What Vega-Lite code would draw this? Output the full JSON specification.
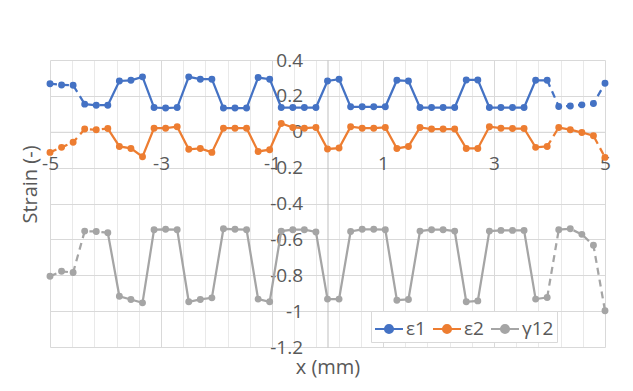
{
  "$schema": "https://vega.github.io/schema/vega-lite/v6.json",
  "width": 555,
  "height": 287,
  "autosize": {"type": "none"},
  "padding": {"left": 50, "top": 60, "right": 28, "bottom": 44},
  "background": "white",
  "config": {"view": {"stroke": null}, "font": "Open Sans"},
  "data": {"values": [
    {"x": -5, "s": "ε1", "v": 0.268}, {"x": -4.7917, "s": "ε1", "v": 0.261}, {"x": -4.5833, "s": "ε1", "v": 0.259},
    {"x": -4.375, "s": "ε1", "v": 0.154}, {"x": -4.1667, "s": "ε1", "v": 0.148}, {"x": -3.9583, "s": "ε1", "v": 0.148},
    {"x": -3.75, "s": "ε1", "v": 0.283}, {"x": -3.5417, "s": "ε1", "v": 0.287}, {"x": -3.3333, "s": "ε1", "v": 0.306},
    {"x": -3.125, "s": "ε1", "v": 0.135}, {"x": -2.9167, "s": "ε1", "v": 0.132}, {"x": -2.7083, "s": "ε1", "v": 0.135},
    {"x": -2.5, "s": "ε1", "v": 0.306}, {"x": -2.2917, "s": "ε1", "v": 0.293}, {"x": -2.0833, "s": "ε1", "v": 0.293},
    {"x": -1.875, "s": "ε1", "v": 0.132}, {"x": -1.6667, "s": "ε1", "v": 0.132}, {"x": -1.4583, "s": "ε1", "v": 0.132},
    {"x": -1.25, "s": "ε1", "v": 0.302}, {"x": -1.0417, "s": "ε1", "v": 0.293},
    {"x": -0.8333, "s": "ε1", "v": 0.135}, {"x": -0.625, "s": "ε1", "v": 0.135}, {"x": -0.4167, "s": "ε1", "v": 0.135}, {"x": -0.2083, "s": "ε1", "v": 0.135},
    {"x": 0, "s": "ε1", "v": 0.283}, {"x": 0.2083, "s": "ε1", "v": 0.293},
    {"x": 0.4167, "s": "ε1", "v": 0.139}, {"x": 0.625, "s": "ε1", "v": 0.139}, {"x": 0.8333, "s": "ε1", "v": 0.139}, {"x": 1.0417, "s": "ε1", "v": 0.139},
    {"x": 1.25, "s": "ε1", "v": 0.287}, {"x": 1.4583, "s": "ε1", "v": 0.283},
    {"x": 1.6667, "s": "ε1", "v": 0.135}, {"x": 1.875, "s": "ε1", "v": 0.135}, {"x": 2.0833, "s": "ε1", "v": 0.135}, {"x": 2.2917, "s": "ε1", "v": 0.135},
    {"x": 2.5, "s": "ε1", "v": 0.289}, {"x": 2.7083, "s": "ε1", "v": 0.289},
    {"x": 2.9167, "s": "ε1", "v": 0.135}, {"x": 3.125, "s": "ε1", "v": 0.135}, {"x": 3.3333, "s": "ε1", "v": 0.135}, {"x": 3.5417, "s": "ε1", "v": 0.135},
    {"x": 3.75, "s": "ε1", "v": 0.287}, {"x": 3.9583, "s": "ε1", "v": 0.287},
    {"x": 4.1667, "s": "ε1", "v": 0.141}, {"x": 4.375, "s": "ε1", "v": 0.144}, {"x": 4.5833, "s": "ε1", "v": 0.15}, {"x": 4.7917, "s": "ε1", "v": 0.157},
    {"x": 5, "s": "ε1", "v": 0.27},

    {"x": -5, "s": "ε2", "v": -0.115}, {"x": -4.7917, "s": "ε2", "v": -0.087}, {"x": -4.5833, "s": "ε2", "v": -0.059},
    {"x": -4.375, "s": "ε2", "v": 0.015}, {"x": -4.1667, "s": "ε2", "v": 0.011}, {"x": -3.9583, "s": "ε2", "v": 0.018},
    {"x": -3.75, "s": "ε2", "v": -0.082}, {"x": -3.5417, "s": "ε2", "v": -0.093}, {"x": -3.3333, "s": "ε2", "v": -0.139},
    {"x": -3.125, "s": "ε2", "v": 0.02}, {"x": -2.9167, "s": "ε2", "v": 0.02}, {"x": -2.7083, "s": "ε2", "v": 0.028},
    {"x": -2.5, "s": "ε2", "v": -0.098}, {"x": -2.2917, "s": "ε2", "v": -0.093}, {"x": -2.0833, "s": "ε2", "v": -0.115},
    {"x": -1.875, "s": "ε2", "v": 0.02}, {"x": -1.6667, "s": "ε2", "v": 0.02}, {"x": -1.4583, "s": "ε2", "v": 0.02},
    {"x": -1.25, "s": "ε2", "v": -0.11}, {"x": -1.0417, "s": "ε2", "v": -0.1},
    {"x": -0.8333, "s": "ε2", "v": 0.046}, {"x": -0.625, "s": "ε2", "v": 0.024}, {"x": -0.4167, "s": "ε2", "v": 0.02}, {"x": -0.2083, "s": "ε2", "v": 0.024},
    {"x": 0, "s": "ε2", "v": -0.096}, {"x": 0.2083, "s": "ε2", "v": -0.091},
    {"x": 0.4167, "s": "ε2", "v": 0.028}, {"x": 0.625, "s": "ε2", "v": 0.02}, {"x": 0.8333, "s": "ε2", "v": 0.02}, {"x": 1.0417, "s": "ε2", "v": 0.024},
    {"x": 1.25, "s": "ε2", "v": -0.093}, {"x": 1.4583, "s": "ε2", "v": -0.082},
    {"x": 1.6667, "s": "ε2", "v": 0.024}, {"x": 1.875, "s": "ε2", "v": 0.015}, {"x": 2.0833, "s": "ε2", "v": 0.015}, {"x": 2.2917, "s": "ε2", "v": 0.015},
    {"x": 2.5, "s": "ε2", "v": -0.093}, {"x": 2.7083, "s": "ε2", "v": -0.093},
    {"x": 2.9167, "s": "ε2", "v": 0.028}, {"x": 3.125, "s": "ε2", "v": 0.02}, {"x": 3.3333, "s": "ε2", "v": 0.018}, {"x": 3.5417, "s": "ε2", "v": 0.018},
    {"x": 3.75, "s": "ε2", "v": -0.087}, {"x": 3.9583, "s": "ε2", "v": -0.082},
    {"x": 4.1667, "s": "ε2", "v": 0.024}, {"x": 4.375, "s": "ε2", "v": 0.011}, {"x": 4.5833, "s": "ε2", "v": -0.004}, {"x": 4.7917, "s": "ε2", "v": -0.022},
    {"x": 5, "s": "ε2", "v": -0.143},

    {"x": -5, "s": "γ12", "v": -0.806}, {"x": -4.7917, "s": "γ12", "v": -0.778}, {"x": -4.5833, "s": "γ12", "v": -0.785},
    {"x": -4.375, "s": "γ12", "v": -0.554}, {"x": -4.1667, "s": "γ12", "v": -0.556}, {"x": -3.9583, "s": "γ12", "v": -0.563},
    {"x": -3.75, "s": "γ12", "v": -0.917}, {"x": -3.5417, "s": "γ12", "v": -0.935}, {"x": -3.3333, "s": "γ12", "v": -0.954},
    {"x": -3.125, "s": "γ12", "v": -0.546}, {"x": -2.9167, "s": "γ12", "v": -0.544}, {"x": -2.7083, "s": "γ12", "v": -0.546},
    {"x": -2.5, "s": "γ12", "v": -0.948}, {"x": -2.2917, "s": "γ12", "v": -0.935}, {"x": -2.0833, "s": "γ12", "v": -0.926},
    {"x": -1.875, "s": "γ12", "v": -0.541}, {"x": -1.6667, "s": "γ12", "v": -0.544}, {"x": -1.4583, "s": "γ12", "v": -0.546},
    {"x": -1.25, "s": "γ12", "v": -0.933}, {"x": -1.0417, "s": "γ12", "v": -0.948},
    {"x": -0.8333, "s": "γ12", "v": -0.554}, {"x": -0.625, "s": "γ12", "v": -0.546}, {"x": -0.4167, "s": "γ12", "v": -0.546}, {"x": -0.2083, "s": "γ12", "v": -0.559},
    {"x": 0, "s": "γ12", "v": -0.933}, {"x": 0.2083, "s": "γ12", "v": -0.933},
    {"x": 0.4167, "s": "γ12", "v": -0.556}, {"x": 0.625, "s": "γ12", "v": -0.544}, {"x": 0.8333, "s": "γ12", "v": -0.544}, {"x": 1.0417, "s": "γ12", "v": -0.546},
    {"x": 1.25, "s": "γ12", "v": -0.939}, {"x": 1.4583, "s": "γ12", "v": -0.935},
    {"x": 1.6667, "s": "γ12", "v": -0.554}, {"x": 1.875, "s": "γ12", "v": -0.546}, {"x": 2.0833, "s": "γ12", "v": -0.546}, {"x": 2.2917, "s": "γ12", "v": -0.554},
    {"x": 2.5, "s": "γ12", "v": -0.948}, {"x": 2.7083, "s": "γ12", "v": -0.943},
    {"x": 2.9167, "s": "γ12", "v": -0.554}, {"x": 3.125, "s": "γ12", "v": -0.55}, {"x": 3.3333, "s": "γ12", "v": -0.55}, {"x": 3.5417, "s": "γ12", "v": -0.55},
    {"x": 3.75, "s": "γ12", "v": -0.933}, {"x": 3.9583, "s": "γ12", "v": -0.924},
    {"x": 4.1667, "s": "γ12", "v": -0.546}, {"x": 4.375, "s": "γ12", "v": -0.541}, {"x": 4.5833, "s": "γ12", "v": -0.572}, {"x": 4.7917, "s": "γ12", "v": -0.633},
    {"x": 5, "s": "γ12", "v": -0.998}
  ]},
  "encoding": {
    "x": {
      "field": "x", "type": "quantitative",
      "scale": {"domain": [-5, 5], "nice": false, "zero": false},
      "axis": {
        "title": "x (mm)",
        "titleFontSize": 20, "titleColor": "#595959", "titleFontWeight": "normal", "titleFont": "Open Sans",
        "titleBaseline": "middle", "titleY": 236,
        "values": [-5, -4.6, -4.2, -3.8, -3.4, -3, -2.6, -2.2, -1.8, -1.4, -1, -0.6, -0.2, 0.2, 0.6, 1, 1.4, 1.8, 2.2, 2.6, 3, 3.4, 3.8, 4.2, 4.6, 5],
        "labelExpr": "abs((datum.value+5)/2 - round((datum.value+5)/2)) < 0.01 ? '' + datum.value : ''",
        "labelFontSize": 19, "labelColor": "#595959", "labelPadding": 23,
        "labelOverlap": false, "labelFlush": false, "labelBound": false,
        "ticks": false,
        "grid": true,
        "gridColor": {"condition": {"test": "abs((datum.value+5)/2 - round((datum.value+5)/2)) < 0.01", "value": "#d9d9d9"}, "value": "#e9e9e9"},
        "gridWidth": 1,
        "domainColor": "#d9d9d9", "domainWidth": 1,
        "offset": -215.25
      }
    },
    "y": {
      "field": "v", "type": "quantitative",
      "scale": {"domain": [-1.2, 0.4], "nice": false, "zero": false},
      "axis": {
        "title": "Strain (-)",
        "titleFontSize": 20, "titleColor": "#595959", "titleFontWeight": "normal", "titleFont": "Open Sans",
        "titleBaseline": "middle", "titleAlign": "center", "titleAngle": -90, "titleX": -297.5, "titleY": 124,
        "values": [-1.2, -1, -0.8, -0.6, -0.4, -0.2, 0, 0.2, 0.4],
        "labelExpr": "'' + datum.value",
        "labelFontSize": 19, "labelColor": "#595959", "labelPadding": 25,
        "labelOverlap": false, "labelFlush": false, "labelBound": false,
        "ticks": false,
        "grid": true, "gridColor": "#d9d9d9",
        "domainColor": "#bfbfbf", "domainWidth": 1,
        "offset": -277.5
      }
    },
    "color": {
      "field": "s", "type": "nominal",
      "scale": {"domain": ["ε1", "ε2", "γ12"], "range": ["#4472C4", "#ED7D31", "#A5A5A5"]},
      "legend": {
        "title": null, "orient": "none", "legendX": 321, "legendY": 251,
        "direction": "horizontal", "columns": 3,
        "symbolType": "M-1,0L1,0M-0.29,0A0.29,0.29,0,1,1,0.29,0A0.29,0.29,0,1,1,-0.29,0",
        "symbolSize": 784, "symbolStrokeWidth": 2, "symbolDash": [],
        "labelFontSize": 19, "labelColor": "#595959", "labelOffset": 2,
        "columnPadding": 3, "padding": 3,
        "strokeColor": "#d9d9d9", "fillColor": "white",
        "encode": {"symbols": {"update": {
          "stroke": {"scale": "color", "field": "value"},
          "fill": {"scale": "color", "field": "value"},
          "opacity": {"value": 1}
        }}}
      }
    }
  },
  "layer": [
    {
      "transform": [{"filter": "datum.x > -3.97 && datum.x < 3.97"}],
      "mark": {"type": "line", "strokeWidth": 2.25}
    },
    {
      "transform": [{"filter": "datum.x < -3.95"}],
      "mark": {"type": "line", "strokeWidth": 2.25, "strokeDash": [7, 5]}
    },
    {
      "transform": [{"filter": "datum.x > 3.95"}],
      "mark": {"type": "line", "strokeWidth": 2.25, "strokeDash": [7, 5]}
    },
    {
      "mark": {"type": "point", "filled": true, "size": 48, "opacity": 1}
    }
  ]
}
